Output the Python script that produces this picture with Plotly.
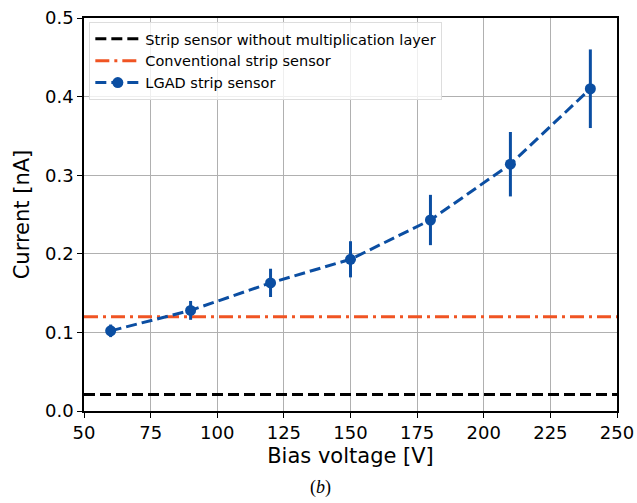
import plotly.graph_objects as go

bias_voltage = [60, 90, 120, 150, 180, 210, 240]
lgad_current = [0.102, 0.128, 0.163, 0.193, 0.243, 0.314, 0.410]
lgad_error = [0.008, 0.012, 0.018, 0.023, 0.032, 0.041, 0.050]

ref_x = [50, 250]
no_mult_current = [0.021, 0.021]
conventional_current = [0.120, 0.120]

x_ticks = [50, 75, 100, 125, 150, 175, 200, 225, 250]
y_ticks = [0.0, 0.1, 0.2, 0.3, 0.4, 0.5]

BLUE = "#0b4ea2"
ORANGE = "#f05423"
FONT = "DejaVu Sans"

fig = go.Figure()
fig.add_trace(go.Scatter(
    x=ref_x, y=no_mult_current, mode="lines",
    line=dict(color="black", width=3, dash="11px,5px"),
    name="Strip sensor without multiplication layer"))
fig.add_trace(go.Scatter(
    x=ref_x, y=conventional_current, mode="lines",
    line=dict(color=ORANGE, width=3, dash="14px,5px,3px,5px"),
    name="Conventional strip sensor"))
fig.add_trace(go.Scatter(
    x=bias_voltage, y=lgad_current, mode="lines+markers",
    line=dict(color=BLUE, width=3, dash="11px,5px"),
    marker=dict(color=BLUE, size=11),
    error_y=dict(type="data", array=lgad_error, color=BLUE, thickness=3, width=0),
    name="LGAD strip sensor"))

axis_common = dict(
    showline=True, linecolor="black", linewidth=1.5, mirror=True,
    showgrid=True, gridcolor="#b0b0b0", gridwidth=1,
    ticks="outside", ticklen=5, tickwidth=1.2, tickcolor="black",
    tickfont=dict(family=FONT, size=18, color="black"),
    zeroline=False, automargin=False,
)

plot_h = 503 - 18 - 92
plot_w = 637 - 84 - 20

fig.update_layout(
    width=637, height=503,
    margin=dict(l=84, r=20, t=18, b=92),
    paper_bgcolor="white", plot_bgcolor="white",
    font=dict(family=FONT, color="black"),
    xaxis=dict(range=[50, 250], tickvals=x_ticks,
               title=dict(text="Bias voltage [V]", font=dict(family=FONT, size=21), standoff=6),
               **axis_common),
    yaxis=dict(range=[0, 0.5], tickvals=y_ticks, tickformat=".1f",
               title=dict(text="Current [nA]", font=dict(family=FONT, size=21), standoff=10),
               **axis_common),
    legend=dict(x=0.01, y=0.99, xanchor="left", yanchor="top",
                bgcolor="rgba(255,255,255,0.8)", bordercolor="#dddddd", borderwidth=1,
                font=dict(family=FONT, size=14.5, color="black"),
                tracegroupgap=0, itemwidth=45),
    showlegend=True,
    annotations=[dict(text="(<i>b</i>)", x=(320 - 84) / plot_w, y=-(487 - 411) / plot_h,
                      xref="paper", yref="paper", yanchor="middle",
                      showarrow=False, font=dict(family="Liberation Serif", size=18, color="black"))],
)

fig.write_html("out.html")
